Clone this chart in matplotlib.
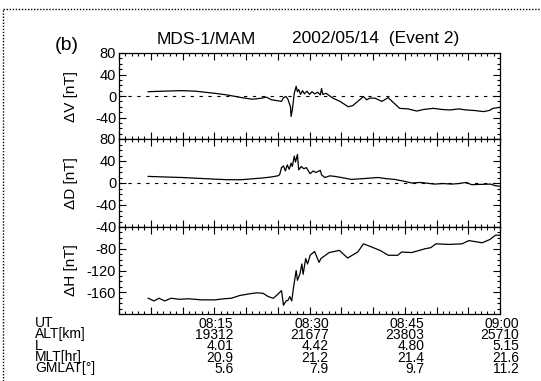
"""MDS-1/MAM magnetic field perturbations, 2002/05/14 (Event 2)."""

import matplotlib

matplotlib.use("Agg")
import matplotlib.pyplot as plt
from matplotlib.lines import Line2D
from matplotlib.ticker import MultipleLocator

plt.rcParams["font.family"] = ["Liberation Sans", "DejaVu Sans"]

# minutes after 08:00 UT
DV_T = [4.6, 7, 9.9, 12, 15.1, 17, 19.3, 21.0, 22.5, 23.2, 24, 25.6, 25.9, 26.3, 26.6,
        27.0, 27.1, 27.3, 27.6, 27.9, 28.1, 28.3, 28.6, 28.9, 29.2, 29.6, 30.0, 30.4,
        30.8, 31.3, 31.7, 31.9, 32.1, 32.6, 33.7, 34.8, 36.1, 36.8, 37.6, 38.5, 39.0,
        39.5, 40.3, 41.4, 42.4, 43.2, 44.2, 45.5, 46.9, 48.0, 49.5, 50.8, 52.1, 53.5,
        54.7, 56.0, 57.4, 58.3, 58.9, 60]
DV = [8, 9, 10, 9, 5, 2, -3, -6, -4, -2, -7, -10, -3, -1, -6,
      -20, -38, -25, 5, 18, 8, 12, 3, 10, 4, 9, 3, 8,
      4, 7, 2, 14, 3, 5, -4, -10, -20, -18, -10, -1, -7,
      -4, -4, -10, -3, -12, -23, -24, -28, -25, -23, -25, -26, -24,
      -26, -27, -29, -27, -23, -21]

DD_T = [4.6, 7, 9.9, 12.5, 15.1, 17, 19.3, 21.4, 22.5, 24.0, 25.0, 25.3, 25.6, 25.9,
        26.2, 26.5, 26.8, 27.1, 27.3, 27.6, 27.8, 28.1, 28.3, 28.7, 29.1, 29.5, 30.1,
        30.6, 31.0, 31.7, 31.9, 32.4, 33.2, 34.0, 35.0, 36.6, 38.5, 40.8, 42.0, 43.4,
        45, 46.1, 47.5, 49.7, 51, 52.4, 53.5, 54.7, 55.5, 57, 58.5, 59.3, 60]
DD = [12, 11, 10, 8.5, 7, 6, 6, 8, 9, 11, 13, 15, 28, 31,
      22, 33, 25, 36, 30, 49, 38, 52, 24, 30, 26, 28, 17,
      22, 19, 23, 15, 10, 13, 12, 10, 6.5, 8, 10, 8, 6.5,
      3, 0, 1, -2, -1, -2, -1, 1, -3, -2.5, -2, -5, -6]

DH_T = [4.6, 5.5, 6.3, 7.2, 8.2, 9.5, 11, 13, 15.1, 16.5, 17.7, 19, 20.5, 21.7, 22.7,
        23.5, 24.3, 24.8, 25.6, 25.9, 26.3, 26.6, 26.9, 27.2, 27.5, 27.9, 28.1, 28.5,
        28.8, 29.0, 29.4, 29.7, 30.1, 30.8, 31.5, 31.8, 33.1, 34.7, 36.0, 37.6, 38.5,
        39.4, 41.1, 42.4, 43.9, 44.5, 46.1, 48.2, 49.1, 49.9, 52, 54.0, 55.1, 57.2,
        58.4, 59.3, 60]
DH = [-171, -176, -171, -176, -171, -173, -172, -174, -174, -172, -171, -166, -163,
      -161, -162, -168, -171, -166, -157, -184, -176, -175, -168, -176, -150, -120,
      -138, -126, -108, -127, -98, -108, -92, -85, -105, -98, -87, -83, -97, -86,
      -71, -75, -83, -92, -92, -86, -87, -80, -78, -71, -72, -71, -65, -69, -63,
      -55, -55]

UT_LABELS = ["08:15", "08:30", "08:45", "09:00"]
ALT_LABELS = ["19312", "21677", "23803", "25710"]
L_LABELS = ["4.01", "4.42", "4.80", "5.15"]
MLT_LABELS = ["20.9", "21.2", "21.4", "21.6"]
GMLAT_LABELS = ["5.6", "7.9", "9.7", "11.2"]

PANELS = [
    ("\u0394V [nT]", DV_T, DV, (-80, 80), [80, 40, 0, -40], True),
    ("\u0394D [nT]", DD_T, DD, (-80, 80), [80, 40, 0, -40], True),
    ("\u0394H [nT]", DH_T, DH, (-200, -40), [-40, -80, -120, -160], False),
]


def main() -> None:
    fig = plt.figure(figsize=(5.41, 3.81), dpi=100)

    left, width = 119 / 541, 381 / 541
    bounds = [(53, 139), (139, 227), (227, 314)]

    for idx, (label, t, v, ylim, yticks, zero_line) in enumerate(PANELS):
        top_px, bot_px = bounds[idx]
        ax = fig.add_axes([left, 1 - bot_px / 381, width, (bot_px - top_px) / 381])
        ax.plot(t, v, color="black", linewidth=0.9)
        if zero_line:
            ax.axhline(0, color="black", linewidth=0.8, linestyle=(0, (3, 5)))
        ax.set_xlim(0, 60)
        ax.set_ylim(*ylim)
        ax.set_yticks(yticks)
        ax.set_yticklabels([str(y) for y in yticks])
        ax.yaxis.set_minor_locator(MultipleLocator(10))
        ax.xaxis.set_major_locator(MultipleLocator(5))
        ax.xaxis.set_minor_locator(MultipleLocator(1))
        ax.tick_params(which="both", direction="in", top=True, right=True,
                       labelsize=10.5, width=0.8, pad=2)
        ax.tick_params(which="major", length=5)
        ax.tick_params(which="minor", length=2.5)
        for spine in ax.spines.values():
            spine.set_linewidth(0.9)
        ax.set_ylabel(label, fontsize=11)
        ax.yaxis.set_label_coords(-0.108, 0.5)

        if idx < 2:
            ax.set_xticklabels([])
        else:
            ticks = list(range(0, 61, 5))
            labels = [""] * len(ticks)
            for j, minute in enumerate([15, 30, 45, 60]):
                labels[ticks.index(minute)] = "\n".join(
                    [UT_LABELS[j], ALT_LABELS[j], L_LABELS[j], MLT_LABELS[j], GMLAT_LABELS[j]]
                )
            ax.set_xticks(ticks)
            ax.set_xticklabels(labels)
            ax.tick_params(axis="x", labelsize=10, pad=2)
            for lbl in ax.get_xticklabels():
                lbl.set_multialignment("right")
                lbl.set_linespacing(0.76)

    fig.text(35 / 541, 1 - 316 / 381, "UT\nALT[km]\nL\nMLT[hr]\nGMLAT[\u00b0]",
             ha="left", va="top", fontsize=10, linespacing=0.76)

    fig.text(206 / 541, 1 - 39 / 381, "MDS-1/MAM", ha="center", va="center", fontsize=12.5)
    fig.text(376 / 541, 1 - 39 / 381, "2002/05/14  (Event 2)", ha="center", va="center",
             fontsize=12.5)
    fig.text(67 / 541, 1 - 46 / 381, "(b)", ha="center", va="center", fontsize=14)

    # dotted frame around the panel
    fig.add_artist(Line2D([3 / 541, 1], [1 - 9 / 381, 1 - 9 / 381], transform=fig.transFigure,
                          color="black", linewidth=1, linestyle=(0, (1, 1.2))))
    fig.add_artist(Line2D([3 / 541, 3 / 541], [0, 1 - 9 / 381], transform=fig.transFigure,
                          color="black", linewidth=1, linestyle=(0, (1, 1.2))))

    fig.savefig("out.png", dpi=100)
    plt.close(fig)


if __name__ == "__main__":
    main()
